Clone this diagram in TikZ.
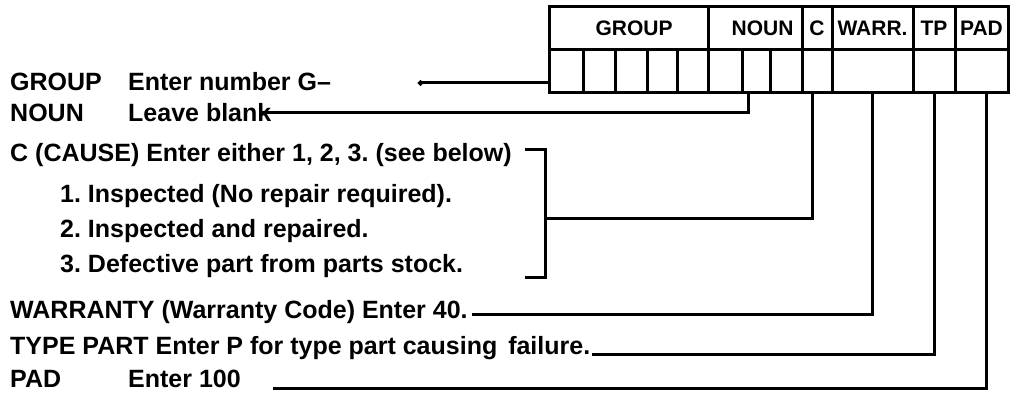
\documentclass[tikz,border=0pt]{standalone}
\usepackage{fontspec}
\setmainfont{Liberation Sans}
\usetikzlibrary{arrows.meta}
\frenchspacing
\begin{document}
\begin{tikzpicture}[x=1pt,y=-1pt,
  wire/.style={line width=3pt},
  cell/.style={draw,line width=3pt,inner sep=0pt,minimum height=43pt},
  lbl/.style={anchor=base west,inner sep=0pt,font=\fontsize{25}{25}\selectfont\bfseries},
  hdr/.style={font=\fontsize{21}{21}\selectfont\bfseries}]
\useasboundingbox (0,0) rectangle (1011,398);
% header row
\node[cell,hdr,minimum width=159pt] (hG) at (628.5,28.5) {\hspace*{11pt}GROUP};
\node[cell,hdr,minimum width=94pt]  (hN) at (755,28.5) {\hspace*{15pt}NOUN};
\node[cell,hdr,minimum width=30pt]  (hC) at (817,28.5) {C};
\node[cell,hdr,minimum width=81pt]  (hW) at (872.5,28.5) {WARR.};
\node[cell,hdr,minimum width=42pt]  (hT) at (934,28.5) {TP};
\node[cell,hdr,minimum width=53pt]  (hP) at (981.5,28.5) {PAD};
% entry row
\node[cell,minimum width=34pt] (g1) at (566,71.5) {};
\node[cell,minimum width=32pt] (g2) at (599,71.5) {};
\node[cell,minimum width=32pt] (g3) at (631,71.5) {};
\node[cell,minimum width=30pt] (g4) at (662,71.5) {};
\node[cell,minimum width=31pt] (g5) at (692.5,71.5) {};
\node[cell,minimum width=34pt] (n1) at (725,71.5) {};
\node[cell,minimum width=28pt] (n2) at (756,71.5) {};
\node[cell,minimum width=32pt] (n3) at (786,71.5) {};
\node[cell,minimum width=30pt] (cc) at (817,71.5) {};
\node[cell,minimum width=81pt] (ww) at (872.5,71.5) {};
\node[cell,minimum width=42pt] (tt) at (934,71.5) {};
\node[cell,minimum width=53pt] (pp) at (981.5,71.5) {};
% texts
\node[lbl] (txG)  at (10,91)  {GROUP};
\node[lbl] (txGd) at (128,91) {Enter number G–};
\node[lbl] (txN)  at (10,122) {NOUN};
\node[lbl] (txNd) at (128,122) {Leave blank};
\node[lbl] (txC)  at (10,162) {C (CAUSE) Enter either 1, 2, 3. (see below)};
\node[lbl] (txI1) at (60,202) {1. Inspected (No repair required).};
\node[lbl] (txI2) at (60,237) {2. Inspected and repaired.};
\node[lbl] (txI3) at (60,272) {3. Defective part from parts stock.};
\node[lbl] (txW)  at (10,318) {WARRANTY (Warranty Code) Enter 40.};
\node[lbl] (txT)  at (10,354) {TYPE PART Enter P for type part causing\hspace{4pt} failure.};
\node[lbl] (txP)  at (10,387) {PAD};
\node[lbl] (txPd) at (128,387) {Enter 100};
% free ends
\coordinate (gEnd) at (418,83);
\coordinate (nEnd) at (262,113);
\coordinate (brTop) at (525,150);
\coordinate (brBot) at (525,277);
\coordinate (brMid) at (545,218);
\coordinate (wEnd) at (472,314);
\coordinate (tEnd) at ([xshift=2pt]txT.base east);
\coordinate (pEnd) at (273,388);
% connectors
\draw[wire,{Circle[length=5pt]}-] (gEnd) -- (gEnd -| g1.west);
\draw[wire] ([xshift=-8pt]n2.south) |- (nEnd);
\draw[wire] (brTop) -| (brMid) |- (brBot);
\draw[wire] ([xshift=-5pt]cc.south) |- (brMid);
\draw[wire] (ww.south) |- (wEnd);
\draw[wire] (tt.south) |- (tEnd);
\draw[wire] ([xshift=5pt]pp.south) |- (pEnd);
\end{tikzpicture}
\end{document}
